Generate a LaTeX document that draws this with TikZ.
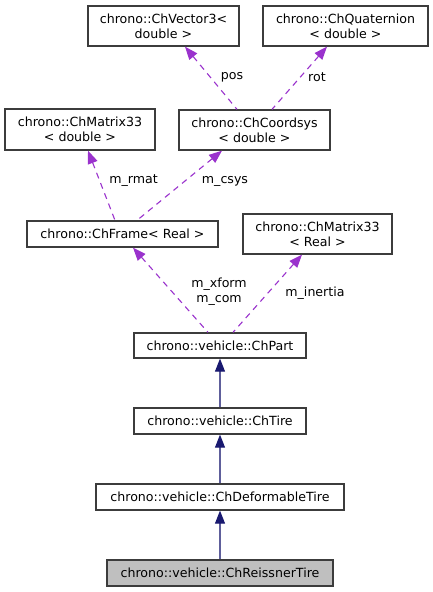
\documentclass[tikz,border=0pt]{standalone}
\usepackage{fontspec}
\setmainfont{DejaVu Sans}
\usetikzlibrary{arrows.meta}
\definecolor{boxborder}{HTML}{3C3C3C}
\definecolor{usecol}{HTML}{9A32CD}
\definecolor{inhcol}{HTML}{191970}
\definecolor{hilite}{HTML}{BFBFBF}
\begin{document}
\begin{tikzpicture}[x=1pt,y=-1pt,
  box/.style={draw=boxborder, line width=1.3pt, fill=white, inner sep=0pt, align=center,
    font=\fontsize{12.6}{14.8}\selectfont},
  usage/.style={draw=usecol, line width=1.1pt, dash pattern=on 6pt off 5pt,
    {Triangle[length=13pt,width=10pt,fill=usecol,color=usecol]}-},
  inherit/.style={draw=inhcol!70!white, line width=1.1pt,
    {Triangle[length=13pt,width=10pt,fill=inhcol,color=inhcol]}-},
  elabel/.style={font=\fontsize{12.6}{14.8}\selectfont, inner sep=0pt, align=center}]
\useasboundingbox (0,0) rectangle (432,592);
\fill[white] (0,0) rectangle (432,592);
\node[box, minimum width=151pt, minimum height=40pt] (vec) at (163.5,26) {chrono::ChVector3\textless\\double \textgreater};
\node[box, minimum width=165pt, minimum height=40pt] (quat) at (345.5,26) {chrono::ChQuaternion\\\textless{} double \textgreater};
\node[box, minimum width=150pt, minimum height=41pt] (matd) at (80,129.5) {chrono::ChMatrix33\\\textless{} double \textgreater};
\node[box, minimum width=151pt, minimum height=40pt] (coord) at (254.5,130) {chrono::ChCoordsys\\\textless{} double \textgreater};
\node[box, minimum width=191pt, minimum height=26pt] (frame) at (122.5,234) {chrono::ChFrame\textless{} Real \textgreater};
\node[box, minimum width=149pt, minimum height=40pt] (matr) at (317.5,234) {chrono::ChMatrix33\\\textless{} Real \textgreater};
\node[box, minimum width=172pt, minimum height=25pt] (part) at (220,345.5) {chrono::vehicle::ChPart};
\node[box, minimum width=172pt, minimum height=26pt] (tire) at (220,421) {chrono::vehicle::ChTire};
\node[box, minimum width=248pt, minimum height=26pt] (deform) at (220,497) {chrono::vehicle::ChDeformableTire};
\node[box, fill=hilite, minimum width=226pt, minimum height=26pt] (reiss) at (220,573) {chrono::vehicle::ChReissnerTire};

\draw[usage] ([xshift=21.5pt]vec.south) -- ([xshift=-17.5pt]coord.north);
\draw[usage] ([xshift=-18.5pt]quat.south) -- ([xshift=17.5pt]coord.north);
\draw[usage] ([xshift=8pt]matd.south) -- ([xshift=-7.5pt]frame.north);
\draw[usage] ([xshift=-32.5pt]coord.south) -- ([xshift=14.5pt]frame.north);
\draw[usage] ([xshift=10.5pt]frame.south) -- ([xshift=-12pt]part.north);
\draw[usage] ([xshift=-15.5pt]matr.south) -- ([xshift=13pt]part.north);
\draw[inherit] (part.south) -- (tire.north);
\draw[inherit] (tire.south) -- (deform.north);
\draw[inherit] (deform.south) -- (reiss.north);

\node[elabel] (lpos) at (232,77) {pos};
\node[elabel] (lrot) at (317,77) {rot};
\node[elabel] (lrmat) at (133.5,181) {m\_rmat};
\node[elabel] (lcsys) at (225,181) {m\_csys};
\node[elabel] (lxform) at (219,292) {m\_xform\\m\_com};
\node[elabel] (linertia) at (315,293) {m\_inertia};
\end{tikzpicture}
\end{document}
